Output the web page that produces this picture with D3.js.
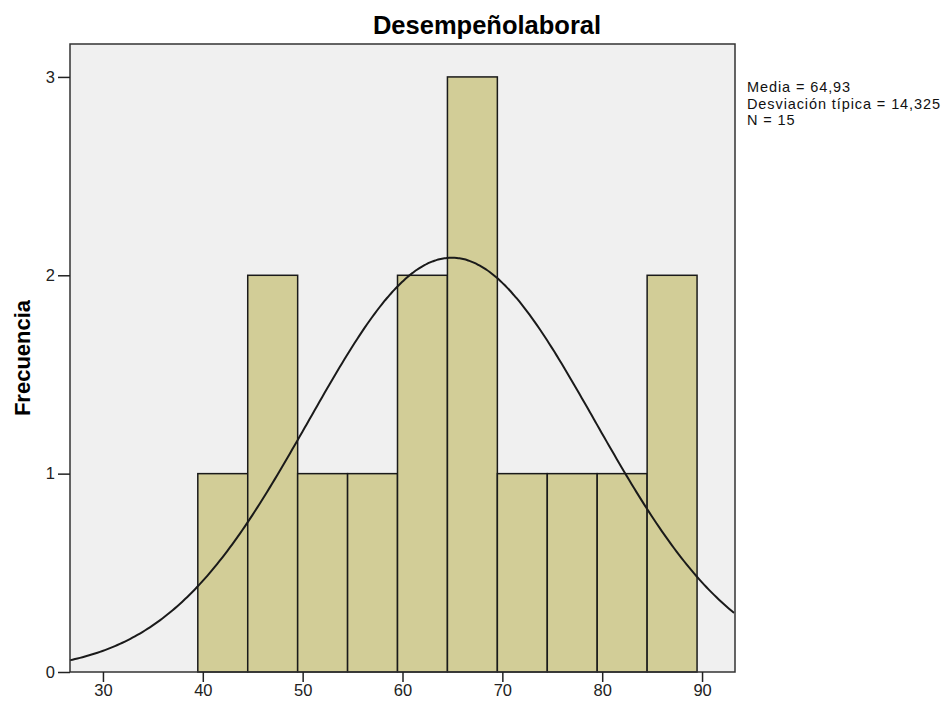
<!DOCTYPE html>
<html>
<head>
<meta charset="utf-8">
<script src="https://cdn.jsdelivr.net/npm/d3@7"></script>
<style>
    body { margin: 0; background: #fff; }
    text { font-family: "Liberation Sans", Arial, sans-serif; }
</style>
</head>
<body>
<div id="chart"></div>
<script>
// histogram bins (width 5) and counts
const binStarts = [39.5, 44.5, 49.5, 54.5, 59.5, 64.5, 69.5, 74.5, 79.5, 84.5];
const counts = [1, 2, 1, 1, 2, 3, 1, 1, 1, 2];
const binWidth = 5;
const xTicks = [30, 40, 50, 60, 70, 80, 90];
const yTicks = [0, 1, 2, 3];
const mean = 64.93;
const sd = 14.325;
const n = 15;
const statLines = ['Media = 64,93', 'Desviación típica = 14,325', 'N = 15'];

const W = 952, H = 702;
const margin = { top: 44, right: 217, bottom: 30, left: 70 };
const width = W - margin.left - margin.right;
const height = H - margin.top - margin.bottom;

const svg = d3.select('#chart')
    .append('svg')
    .attr('width', W)
    .attr('height', H);

const g = svg.append('g')
    .attr('transform', `translate(${margin.left},${margin.top})`);

const x = d3.scaleLinear().domain([26.7, 93.3]).range([0, width]);
const y = d3.scaleLinear().domain([0, 3.166]).range([height, 0]);

// plot background
g.append('rect')
    .attr('width', width)
    .attr('height', height)
    .attr('fill', '#f0f0f0');

// bars
g.selectAll('.bar')
    .data(binStarts)
    .join('rect')
    .attr('class', 'bar')
    .attr('x', d => x(d))
    .attr('y', (d, i) => y(counts[i]))
    .attr('width', d => x(d + binWidth) - x(d))
    .attr('height', (d, i) => y(0) - y(counts[i]))
    .attr('fill', '#d2cd97')
    .attr('stroke', '#1a1a1a')
    .attr('stroke-width', 1.5);

// fitted normal curve
const curveScale = n * binWidth / (sd * Math.sqrt(2 * Math.PI));
const xs = d3.range(x.domain()[0], x.domain()[1] + 0.01, 0.25);
const line = d3.line()
    .x(d => x(d))
    .y(d => y(curveScale * Math.exp(-0.5 * ((d - mean) / sd) ** 2)))
    .curve(d3.curveBasis);

g.append('path')
    .datum(xs)
    .attr('d', line)
    .attr('fill', 'none')
    .attr('stroke', '#1a1a1a')
    .attr('stroke-width', 2);

// frame
g.append('rect')
    .attr('width', width)
    .attr('height', height)
    .attr('fill', 'none')
    .attr('stroke', '#333')
    .attr('stroke-width', 1.5);

// axes
const xAxis = g.append('g')
    .attr('transform', `translate(0,${height})`)
    .call(d3.axisBottom(x).tickValues(xTicks).tickSize(10).tickSizeOuter(0).tickPadding(2));

const yAxis = g.append('g')
    .call(d3.axisLeft(y).tickValues(yTicks).tickFormat(d3.format('d'))
        .tickSize(12).tickSizeOuter(0).tickPadding(3));

[xAxis, yAxis].forEach(ax => {
    ax.select('.domain').remove();
    ax.selectAll('line').attr('stroke', '#222').attr('stroke-width', 1.5);
    ax.selectAll('text')
        .attr('fill', '#222')
        .style('font-size', '16.5px')
        .style('font-family', '"Liberation Sans", Arial, sans-serif');
});

// title
svg.append('text')
    .attr('x', 487)
    .attr('y', 34)
    .attr('text-anchor', 'middle')
    .style('font-size', '25.5px')
    .style('font-weight', 'bold')
    .text('Desempeñolaboral');

// y label
svg.append('text')
    .attr('transform', `translate(30,${358}) rotate(-90)`)
    .attr('text-anchor', 'middle')
    .style('font-size', '22px')
    .style('font-weight', 'bold')
    .text('Frecuencia');

// stats
svg.append('g')
    .selectAll('text')
    .data(statLines)
    .join('text')
    .attr('x', 747)
    .attr('y', (d, i) => 92 + i * 16.5)
    .style('font-size', '14.5px')
    .style('letter-spacing', '0.9px')
    .attr('fill', '#111')
    .text(d => d);
</script>
</body>
</html>
